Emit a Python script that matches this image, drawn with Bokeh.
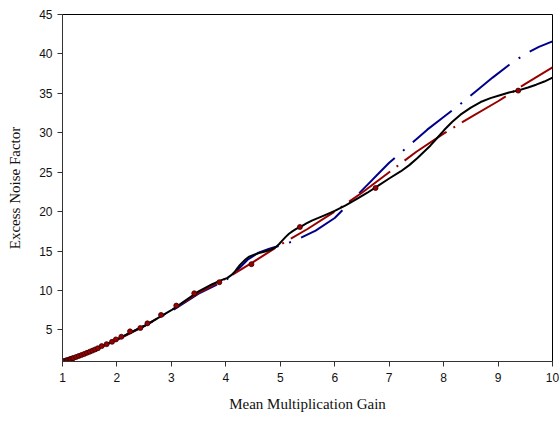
import numpy as np
from bokeh.plotting import figure
from bokeh.models import Range1d, FixedTicker
from bokeh.embed import file_html
from bokeh.resources import INLINE

# Measured data points (dark red markers)
pts_x = [1.0, 1.02, 1.05, 1.08, 1.1, 1.13, 1.15, 1.18, 1.2, 1.25, 1.3, 1.35, 1.4, 1.45,
         1.5, 1.55, 1.6, 1.65, 1.72, 1.81, 1.91, 1.98, 2.08, 2.24, 2.43, 2.56, 2.81,
         3.09, 3.42, 3.88, 4.47, 5.36, 6.75, 9.37]
pts_y = [1.0, 1.04, 1.1, 1.16, 1.2, 1.27, 1.32, 1.39, 1.44, 1.57, 1.7, 1.83, 1.96, 2.1,
         2.24, 2.38, 2.53, 2.68, 2.95, 3.2, 3.5, 3.8, 4.14, 4.82, 5.25, 5.84, 6.9,
         8.09, 9.65, 11.05, 13.34, 18.05, 23.0, 35.35]

# Black solid curve
black_x = [1.0, 1.25, 1.5, 1.75, 2.0, 2.25, 2.5, 2.75, 3.0, 3.25, 3.5, 3.75, 3.93, 4.03,
           4.1, 4.16, 4.21, 4.26, 4.31, 4.37, 4.43, 4.52, 4.61, 4.72, 4.83, 4.92, 4.98,
           5.04, 5.1, 5.16, 5.22, 5.3, 5.38, 5.48, 5.59, 5.8, 6.0, 6.2, 6.4, 6.6, 6.8,
           7.0, 7.21, 7.37, 7.52, 7.64, 7.76, 7.89, 8.01, 8.16, 8.31, 8.5, 8.68, 8.86,
           9.05, 9.2, 9.36, 9.55, 9.7, 9.85, 10.0]
black_y = [1.0, 1.6, 2.25, 3.0, 3.8, 4.7, 5.5, 6.5, 7.5, 8.7, 9.9, 10.8, 11.35, 11.6,
           11.95, 12.35, 12.8, 13.25, 13.6, 14.0, 14.3, 14.55, 14.75, 14.95, 15.2, 15.5,
           15.9, 16.35, 16.8, 17.2, 17.5, 17.85, 18.1, 18.5, 18.9, 19.5, 20.1, 20.8,
           21.6, 22.4, 23.3, 24.2, 25.1, 25.9, 26.8, 27.6, 28.4, 29.4, 30.35, 31.4, 32.3,
           33.2, 33.9, 34.4, 34.8, 35.1, 35.35, 35.75, 36.1, 36.5, 37.0]

# Dark red dash-dot curve
red_x = [1.0, 1.5, 2.0, 2.5, 3.0, 3.5, 4.0, 4.5, 5.0, 5.5, 6.0, 6.5, 7.0, 7.5, 8.0,
         8.5, 9.0, 9.5, 10.0]
red_y = [1.0, 2.2, 3.75, 5.5, 7.5, 9.7, 11.5, 13.6, 15.8, 17.8, 20.0, 22.4, 25.0, 27.6,
         29.9, 32.0, 34.0, 36.2, 38.3]

# Blue long-dash curve
blue_x = [1.0, 1.5, 2.0, 2.5, 3.0, 3.5, 4.0, 4.2, 4.4, 4.6, 4.8, 5.0, 5.28, 5.65,
          6.0, 6.2, 6.4, 6.6, 6.8, 7.0, 7.2, 7.4, 7.7, 8.0, 8.3, 8.6, 8.9, 9.2, 9.5,
          9.75, 10.0]
blue_y = [1.0, 2.2, 3.75, 5.5, 7.4, 9.6, 11.3, 12.5, 13.9, 14.8, 15.3, 15.7, 16.35, 17.6,
          19.2, 20.6, 22.0, 23.4, 24.8, 26.2, 27.4, 28.6, 30.4, 32.0, 33.6, 35.3,
          37.0, 38.6, 40.0, 40.9, 41.6]

x_ticks = [1, 2, 3, 4, 5, 6, 7, 8, 9, 10]
y_ticks = [5, 10, 15, 20, 25, 30, 35, 40, 45]

# styling: dash patterns and phase (so dashes fall where they do in the original)
SX, SY = 490.0 / 9.0, 347.0 / 44.0


def dash_offset(xs, ys, x_start, period):
    xs = np.asarray(xs, float)
    ys = np.asarray(ys, float)
    seg = np.hypot(np.diff(xs) * SX, np.diff(ys) * SY)
    cum = np.concatenate([[0.0], np.cumsum(seg)])
    L = np.interp(x_start, xs, cum)
    return int(round((-L) % period))


blue_dash = [50, 11, 2, 11]
red_dash = [51, 8, 2, 8]
blue_off = dash_offset(blue_x, blue_y, 8.49, sum(blue_dash))
red_off = dash_offset(red_x, red_y, 8.33, sum(red_dash))

p = figure(width=559, height=421, output_backend="svg", toolbar_location=None,
           x_range=Range1d(1, 10), y_range=Range1d(1, 45),
           min_border_left=62, min_border_right=7, min_border_top=14, min_border_bottom=60)
p.background_fill_color = "white"
p.border_fill_color = "white"
p.outline_line_color = "black"
p.outline_line_width = 1
p.xgrid.visible = False
p.ygrid.visible = False

p.line(blue_x, blue_y, line_color="#00008B", line_width=2,
       line_dash=" ".join(str(v) for v in blue_dash), line_dash_offset=blue_off)
p.line(red_x, red_y, line_color="#990000", line_width=2,
       line_dash=" ".join(str(v) for v in red_dash), line_dash_offset=red_off)
p.line(black_x, black_y, line_color="black", line_width=2, line_join="round")
p.scatter(pts_x, pts_y, size=5, fill_color="#990000", line_color="#330000", line_width=0.8)

for ax in (p.xaxis[0], p.yaxis[0]):
    ax.axis_line_color = "#333333"
    ax.major_tick_line_color = "#333333"
    ax.major_tick_out = 5
    ax.major_tick_in = 0
    ax.minor_tick_line_color = None
    ax.major_label_text_font = "Liberation Sans"
    ax.major_label_text_font_size = "12px"
    ax.major_label_text_color = "#111111"
    ax.axis_label_text_font = "Liberation Serif"
    ax.axis_label_text_font_size = "15px"
    ax.axis_label_text_font_style = "normal"
    ax.axis_label_text_color = "#111111"

p.xaxis.ticker = FixedTicker(ticks=x_ticks)
p.yaxis.ticker = FixedTicker(ticks=y_ticks)
p.xaxis.axis_label = "Mean Multiplication Gain"
p.yaxis.axis_label = "Excess Noise Factor"
p.xaxis.major_label_standoff = 6
p.xaxis.axis_label_standoff = 11
p.yaxis.major_label_standoff = 5
p.yaxis.axis_label_standoff = 13

open("out.html", "w").write(file_html(p, INLINE))
